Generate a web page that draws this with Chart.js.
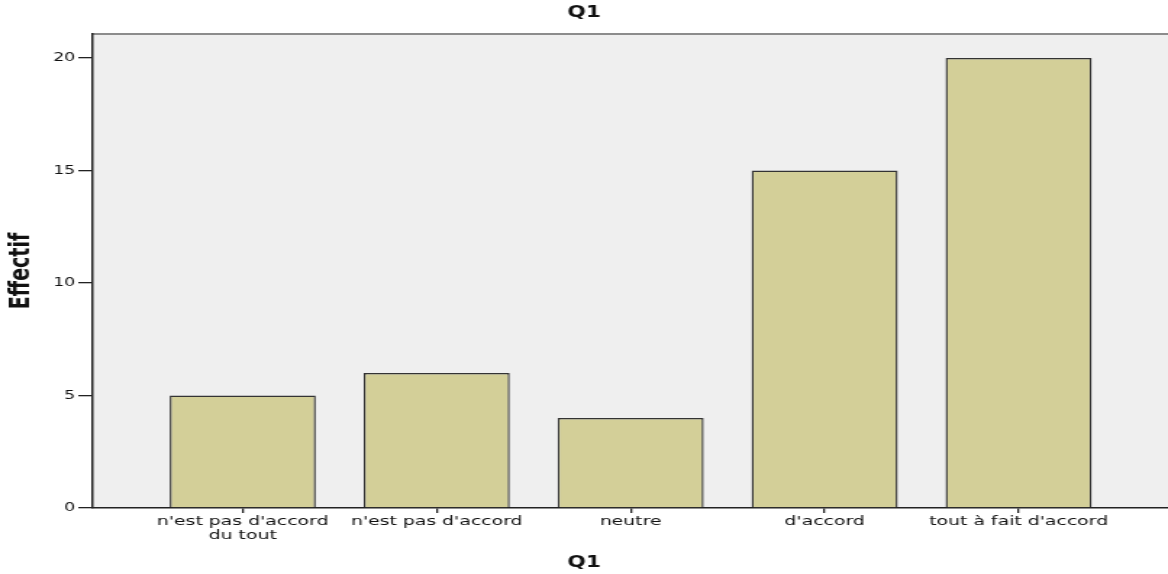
<!DOCTYPE html>
<html>
<head>
<meta charset="utf-8">
<script src="https://cdn.jsdelivr.net/npm/chart.js@4/dist/chart.umd.min.js"></script>
<style>
  html, body { margin: 0; padding: 0; background: #fff; overflow: hidden; }
  /* the source picture is stretched sideways, so the chart is drawn narrow and widened */
  #wrap { width: 806px; height: 574px; transform: scaleX(1.4491); transform-origin: 0 0; }
</style>
</head>
<body>
<div id="wrap"><canvas id="q1Chart" width="806" height="574"></canvas></div>
<script>
const categories = ["n'est pas d'accord du tout", "n'est pas d'accord", "neutre", "d'accord", "tout à fait d'accord"];
const tickLabels = [["n'est pas d'accord", "du tout"], "n'est pas d'accord", "neutre", "d'accord", "tout à fait d'accord"];
const counts = [5, 6, 4, 15, 20];
const yTicks = [0, 5, 10, 15, 20];

const plotBg = {
  id: "plotBg",
  beforeDraw(chart) {
    const { ctx, chartArea: a } = chart;
    ctx.save();
    ctx.fillStyle = "#efefef";
    ctx.fillRect(a.left, a.top, a.right - a.left, a.bottom - a.top);
    ctx.strokeStyle = "#8c8c8c";
    ctx.lineWidth = 1.8;
    ctx.beginPath();
    ctx.moveTo(a.left, a.top);
    ctx.lineTo(a.right, a.top);
    ctx.stroke();
    ctx.restore();
  }
};

const ctx = document.getElementById("q1Chart").getContext("2d");
const q1Chart = new Chart(ctx, {
  type: "bar",
  data: {
    datasets: [{
      label: "Effectif",
      data: counts.map((v, i) => ({ x: i, y: v })),
      backgroundColor: "#d3cf98",
      borderColor: "#333",
      borderWidth: 1.4,
      barPercentage: 0.753,
      categoryPercentage: 1
    }]
  },
  options: {
    responsive: false,
    maintainAspectRatio: false,
    devicePixelRatio: 1,
    animation: false,
    layout: { padding: 0 },
    plugins: {
      legend: { display: false },
      tooltip: { callbacks: { title: (items) => categories[items[0].raw.x] } },
      title: {
        display: true,
        text: "Q1",
        color: "#111",
        font: { family: "DejaVu Sans", size: 15, weight: "bold" },
        padding: { top: 4, bottom: 12 }
      },
      subtitle: {
        display: true,
        position: "bottom",
        text: "Q1",
        color: "#111",
        font: { family: "DejaVu Sans", size: 15, weight: "bold" },
        padding: { top: 9, bottom: 2 }
      }
    },
    scales: {
      x: {
        type: "linear",
        min: -0.773,
        max: 4.77,
        offset: false,
        afterBuildTicks: (scale) => { scale.ticks = categories.map((c, i) => ({ value: i })); },
        afterFit: (scale) => { scale.height = 37; },
        grid: { display: true, offset: false, drawOnChartArea: false, tickLength: 5, color: "#222", lineWidth: 1.3 },
        border: { color: "#222", width: 1.5 },
        ticks: {
          autoSkip: false,
          maxRotation: 0,
          padding: 2,
          color: "#111",
          font: { family: "DejaVu Sans", size: 13, lineHeight: 1.05 },
          callback: (v) => tickLabels[v]
        }
      },
      y: {
        min: 0,
        max: 21.07,
        afterBuildTicks: (scale) => { scale.ticks = yTicks.map((v) => ({ value: v })); },
        afterFit: (scale) => { scale.width = 64; },
        grid: { display: true, drawOnChartArea: false, tickLength: 10, color: "#222", lineWidth: 1.3 },
        border: { color: "#222", width: 1.5 },
        ticks: {
          padding: 2,
          color: "#111",
          font: { family: "DejaVu Sans", size: 12 }
        },
        title: {
          display: true,
          text: "Effectif",
          color: "#111",
          font: { family: "DejaVu Sans", size: 19, weight: "bold" },
          padding: { top: 4, bottom: 0 }
        }
      }
    }
  },
  plugins: [plotBg]
});
</script>
</body>
</html>
